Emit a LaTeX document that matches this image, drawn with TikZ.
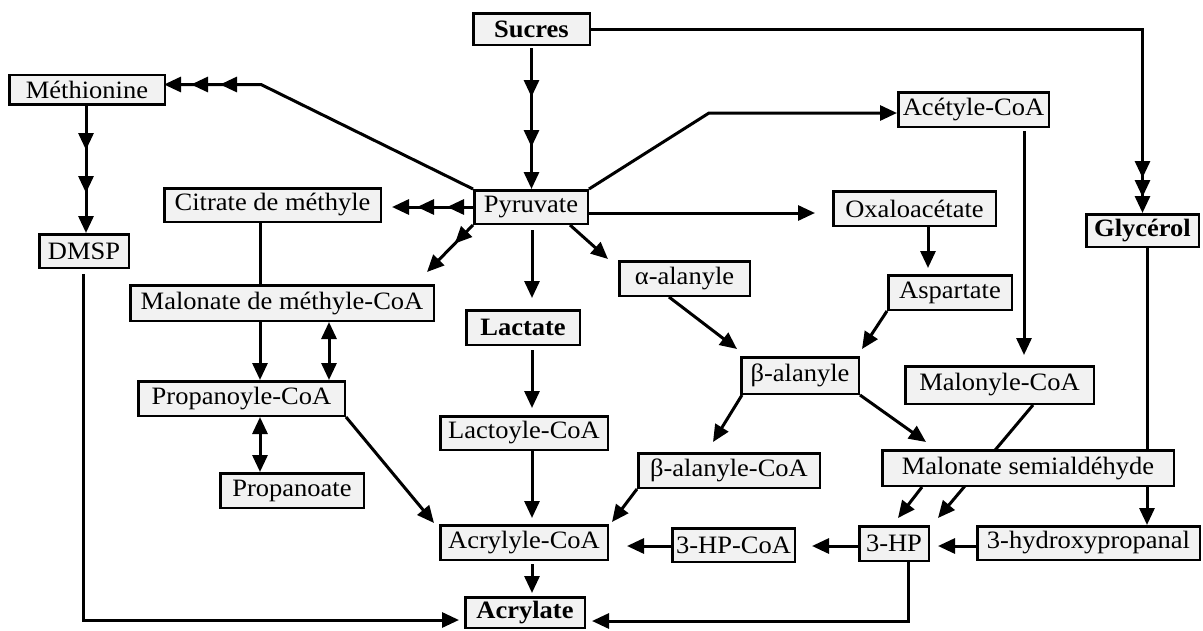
\documentclass[tikz,border=0pt]{standalone}
\usepackage{fontspec}
\setmainfont{Liberation Serif}[FakeStretch=1.06]
\usetikzlibrary{arrows.meta,calc,decorations.markings}
\pgfdeclarelayer{bg}
\pgfsetlayers{bg,main}
\definecolor{boxgray}{HTML}{F2F2F2}
\newcommand\fs{\fontsize{25}{30}\selectfont}
\begin{document}
\begin{tikzpicture}[x=1pt,y=-1pt,
  >={Triangle[length=17pt,width=15pt]},
  box/.style={draw, line width=2.5pt, fill=boxgray, inner sep=0pt, font=\fs},
  bbox/.style={box, font=\fs\bfseries},
  conn/.style={line width=3pt},
  marks/.style={postaction={decorate}, decoration={markings,#1}}]
\useasboundingbox (0,0) rectangle (1203,630);

% nodes
\node[bbox, minimum width=116.5pt, minimum height=31.5pt] (suc) at (531.5,29) {Sucres};
\node[box, minimum width=155.5pt, minimum height=29.5pt] (met) at (87,89.5) {Méthionine};
\node[box, minimum width=89.5pt, minimum height=33.5pt] (dmsp) at (84,251) {DMSP};
\node[box, minimum width=216.5pt, minimum height=33.5pt] (cit) at (272.5,205) {Citrate de méthyle};
\node[box, minimum width=113.5pt, minimum height=33.5pt] (pyr) at (531,207) {Pyruvate};
\node[box, minimum width=303.5pt, minimum height=35.5pt] (mmc) at (282,303) {Malonate de méthyle-CoA};
\node[bbox, minimum width=113.5pt, minimum height=34.5pt] (lac) at (523,327.5) {Lactate};
\node[box, minimum width=206.5pt, minimum height=34.5pt] (pcoa) at (241.5,398.5) {Propanoyle-CoA};
\node[box, minimum width=143.5pt, minimum height=34.5pt] (pate) at (292,490.5) {Propanoate};
\node[box, minimum width=167.5pt, minimum height=33.5pt] (lcoa) at (524,433) {Lactoyle-CoA};
\node[box, minimum width=167.5pt, minimum height=34.5pt] (acoa) at (524,542.5) {Acrylyle-CoA};
\node[bbox, minimum width=119.5pt, minimum height=30.5pt] (acr) at (525,612.5) {Acrylate};
\node[box, minimum width=150.5pt, minimum height=34.5pt] (acet) at (973.5,109.5) {Acétyle-CoA};
\node[box, minimum width=162.5pt, minimum height=34.5pt] (oxa) at (914.5,208.5) {Oxaloacétate};
\node[bbox, minimum width=112.5pt, minimum height=32.5pt] (gly) at (1142.5,230.5) {Glycérol};
\node[box, minimum width=130.5pt, minimum height=34.5pt] (ala) at (684.5,278.5) {α-alanyle};
\node[box, minimum width=123.5pt, minimum height=34.5pt] (asp) at (950,292.5) {Aspartate};
\node[box, minimum width=117.5pt, minimum height=36.5pt] (bala) at (800,375.5) {β-alanyle};
\node[box, minimum width=188.5pt, minimum height=37.5pt] (mcoa) at (999.5,385) {Malonyle-CoA};
\node[box, minimum width=181.5pt, minimum height=34.5pt] (bcoa) at (729,470.5) {β-alanyle-CoA};
\node[box, minimum width=291.5pt, minimum height=35.5pt] (msa) at (1028,468) {Malonate semialdéhyde};
\node[box, minimum width=122.5pt, minimum height=33.5pt] (hpcoa) at (733.5,545) {3-HP-CoA};
\node[box, minimum width=69.5pt, minimum height=34.5pt] (hp) at (894,543.5) {3-HP};
\node[box, minimum width=222.5pt, minimum height=33.5pt] (hpal) at (1088.5,543) {3-hydroxypropanal};

% helper coordinates
\coordinate (bm) at (261,84.5);
\coordinate (ba) at (709,113);
\coordinate (po) at ([yshift=-6pt]pyr.east);
\coordinate (pl) at ([xshift=1pt]pyr.south);
\coordinate (oa) at ([xshift=13.5pt]oxa.south);
\coordinate (am) at ([xshift=50.5pt]acet.south);
\coordinate (gh) at ([xshift=4.5pt]gly.south);
\coordinate (hh) at ([yshift=-3pt]hpal.west);
\coordinate (hc) at ([yshift=-2.5pt]hp.west);
\coordinate (ca) at ([yshift=-1pt]hpcoa.west);
\coordinate (ll) at ([xshift=9pt]lac.south);
\coordinate (la) at ([xshift=8pt]lcoa.south);
\coordinate (aa) at ([xshift=8pt]acoa.south);
\coordinate (ds) at ([xshift=-1pt]dmsp.south);
\coordinate (da) at ([yshift=-7.5pt]acr.west);
\coordinate (ha) at ([xshift=14pt]hp.south);
\coordinate (ah) at ([yshift=-8.5pt]acr.east);
\coordinate (cm) at ([xshift=-12.5pt]cit.south);
\coordinate (mp) at ([xshift=-22pt]mmc.south);
\coordinate (mq) at ([xshift=47pt]mmc.south);
\coordinate (pp) at ([xshift=18.5pt]pcoa.south);
\coordinate (md) at ([xshift=-1pt]met.south);

% connectors passing behind boxes
\begin{pgfonlayer}{bg}
\draw[conn,->] (gh) -- (gh |- hpal.north);
\draw[conn,->] ($(mcoa.south)+(33.5,0)$) -- ($(hp.north east)+(8,-7)$);
\end{pgfonlayer}

% connectors
\draw[conn,->,shorten <=2pt, marks={mark=at position 51pt with {\arrow{>}}, mark=at position 101pt with {\arrow{>}}}]
  (suc.south) -- (suc.south |- pyr.north);
\draw[conn,->, marks={mark=at position -16pt with {\arrow{>}}, mark=at position -35pt with {\arrow{>}}}]
  (suc.east) -| (gly.north);
\draw[conn,->,shorten >=-2pt, marks={mark=at position -25pt with {\arrow{>}}, mark=at position -54pt with {\arrow{>}}}]
  (pyr.north west) -- (bm) -- (bm -| met.east);
\draw[conn,->, marks={mark=at position -40pt with {\arrow{>}}, mark=at position -83pt with {\arrow{>}}}]
  (md) -- (md |- dmsp.north);
\draw[conn,->,shorten >=10pt, marks={mark=at position 26pt with {\arrow{>}}, mark=at position 56pt with {\arrow{>}}}]
  (pyr.west) -- (pyr.west -| cit.east);
\draw[conn,->, marks={mark=at position 26pt with {\arrow{>}}}]
  (pyr.south west) -- ($(mmc.north east)+(-8,-12)$);
\draw[conn,->,shorten <=5pt,shorten >=11pt] (pl) -- (pl |- lac.north);
\draw[conn,->] ($(pyr.south east)+(-19,0)$) -- ($(ala.north west)+(-10,-1)$);
\draw[conn,->] (pyr.north east) -- (ba) -- (ba -| acet.west);
\draw[conn,->,shorten >=17pt] (po) -- (po -| oxa.west);
\draw[conn,->,shorten >=6pt] (oa) -- (oa |- asp.north);
\draw[conn,->] ($(ala.south west)+(51,0)$) -- ($(bala.north west)+(-3,-7)$);
\draw[conn,->] (asp.south west) -- ($(bala.north east)+(2,-7)$);
\draw[conn,->,shorten <=3pt,shorten >=10pt] (am) -- (am |- mcoa.north);
\draw[conn,->] ($(bala.south west)+(2,0)$) -- ($(bcoa.north)+(-16,-10)$);
\draw[conn,->] (bala.south east) -- ($(msa.north west)+(45,-7)$);
\draw[conn,->] ($(msa.south west)+(41,0)$) -- ($(hp.north)+(4,-7)$);
\draw[conn,->] (bcoa.south west) -- ($(acoa.north east)+(3,-2)$);
\draw[conn,->,shorten >=8pt] (hh) -- (hh -| hp.east);
\draw[conn,->,shorten >=16pt] (hc) -- (hc -| hpcoa.east);
\draw[conn,->,shorten >=18pt] (ca) -- (ca -| acoa.east);
\draw[conn,->,shorten <=4pt,shorten >=7pt] (ll) -- (ll |- lcoa.north);
\draw[conn,->,shorten >=6pt] (la) -- (la |- acoa.north);
\draw[conn,->,shorten <=3pt,shorten >=3pt] (aa) -- (aa |- acr.north);
\draw[conn,->,shorten <=5pt,shorten >=5pt] (ds) |- (da);
\draw[conn,->,shorten >=6pt] (ha) |- (ah);
\draw[conn] (cm) -- (cm |- mmc.north);
\draw[conn,->] (mp) -- (mp |- pcoa.north);
\draw[conn,<->] (mq) -- (mq |- pcoa.north);
\draw[conn,<->] (pp) -- (pp |- pate.north);
\draw[conn,->] (pcoa.south east) -- ($(acoa.north west)+(-5,-1)$);
\end{tikzpicture}
\end{document}
